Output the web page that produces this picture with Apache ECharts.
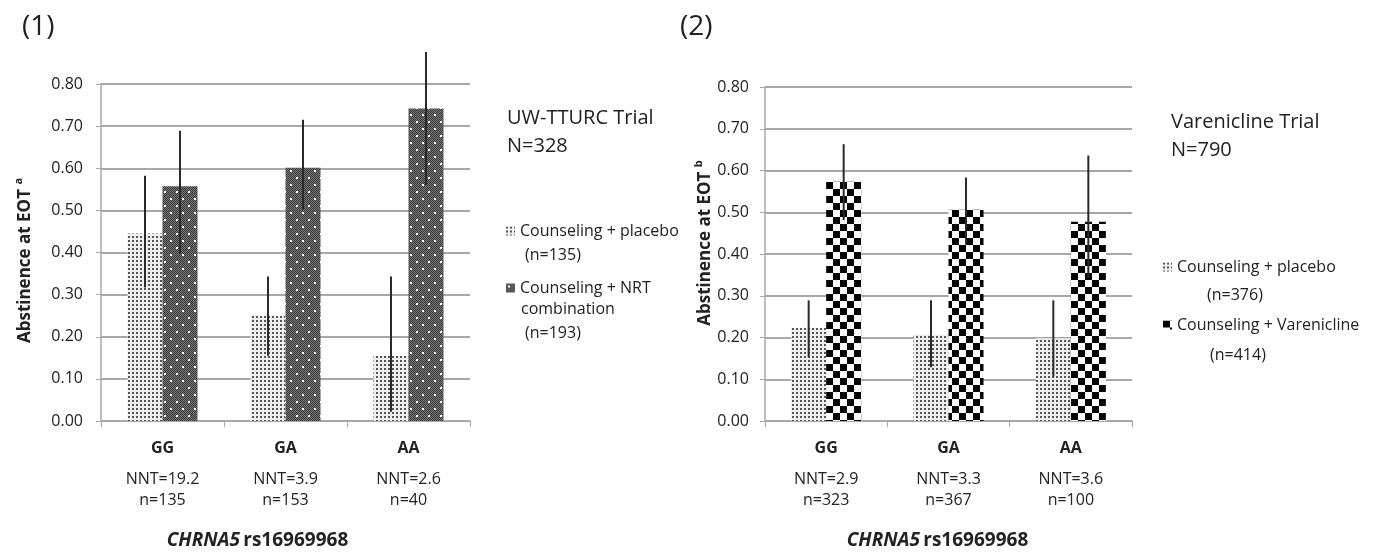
<!DOCTYPE html>
<html>
<head>
    <meta charset="utf-8"/>
    <title>CHRNA5 rs16969968 abstinence</title>
</head>
<body style="margin:0;background:#fff;">

<div id="main" style="width: 1373px;height:555px;"></div>

<script src="https://cdn.jsdelivr.net/npm/echarts@6/dist/echarts.min.js"></script>
<script>
    // genotype groups and the text under each one
    var categories = ['GG', 'GA', 'AA'];
    var nnt1 = ['NNT=19.2', 'NNT=3.9', 'NNT=2.6'];
    var sizes1 = ['n=135', 'n=153', 'n=40'];
    var nnt2 = ['NNT=2.9', 'NNT=3.3', 'NNT=3.6'];
    var sizes2 = ['n=323', 'n=367', 'n=100'];

    // (1) UW-TTURC trial
    var placebo1 = [0.445, 0.251, 0.155];
    var placebo1Low = [0.317, 0.155, 0.022];
    var placebo1High = [0.582, 0.343, 0.343];
    var nrt = [0.557, 0.601, 0.742];
    var nrtLow = [0.397, 0.502, 0.560];
    var nrtHigh = [0.689, 0.715, 0.876];

    // (2) Varenicline trial
    var placebo2 = [0.223, 0.207, 0.198];
    var placebo2Low = [0.153, 0.129, 0.106];
    var placebo2High = [0.289, 0.289, 0.289];
    var varen = [0.573, 0.506, 0.477];
    var varenLow = [0.481, 0.423, 0.344];
    var varenHigh = [0.663, 0.583, 0.636];

    var yMin = 0, yMax = 0.8, yStep = 0.1;

    var FONT = "'Open Sans', sans-serif";
    var INK = '#222';
    var GRID = '#a8a8a8';

    function pattern(w, h, draw) {
        var c = document.createElement('canvas');
        c.width = w;
        c.height = h;
        draw(c.getContext('2d'));
        return {image: c, repeat: 'repeat'};
    }

    // light dotted fill
    var patPlacebo = pattern(4, 4, function (ctx) {
        ctx.fillStyle = '#eeeeee';
        ctx.fillRect(0, 0, 4, 4);
        ctx.fillStyle = '#555555';
        ctx.fillRect(0, 0, 2, 2);
    });
    // dark fine texture with white dots
    var patNrt = pattern(12, 14, function (ctx) {
        for (var x = 0; x < 12; x++) {
            for (var y = 0; y < 14; y++) {
                ctx.fillStyle = (x + y) % 2 === 0 ? '#363636' : '#7a7a7a';
                ctx.fillRect(x, y, 1, 1);
            }
        }
        ctx.fillStyle = '#ffffff';
        ctx.fillRect(2, 2, 2, 2);
        ctx.fillRect(8, 9, 2, 2);
    });
    // black and white checkerboard
    var patVaren = pattern(14, 14, function (ctx) {
        ctx.fillStyle = '#ffffff';
        ctx.fillRect(0, 0, 14, 14);
        ctx.fillStyle = '#000000';
        ctx.fillRect(0, 0, 7, 7);
        ctx.fillRect(7, 7, 7, 7);
    });

    var BAR_W = 35;

    function errData(low, high) {
        return low.map(function (v, i) { return [i, v, high[i]]; });
    }

    function errSeries(name, idx, low, high, offset) {
        return {
            name: name,
            type: 'custom',
            xAxisIndex: idx,
            yAxisIndex: idx,
            z: 5,
            silent: true,
            data: errData(low, high),
            encode: {x: 0, y: [1, 2]},
            renderItem: function (params, api) {
                var a = api.coord([api.value(0), api.value(1)]);
                var b = api.coord([api.value(0), api.value(2)]);
                return {
                    type: 'line',
                    shape: {x1: a[0] + offset, y1: a[1], x2: b[0] + offset, y2: b[1]},
                    style: {stroke: '#2a2a2a', lineWidth: 2}
                };
            }
        };
    }

    function xAxisFor(idx, nnt, sizes, padRight) {
        return {
            type: 'category',
            gridIndex: idx,
            data: categories,
            axisLine: {lineStyle: {color: GRID, width: 1.5}},
            axisTick: {show: true, length: 6, lineStyle: {color: GRID}},
            axisLabel: {
                interval: 0,
                margin: 7,
                formatter: function (v, i) {
                    return '{b|' + v + '}\n{t|' + nnt[i] + '}\n{t|' + sizes[i] + '}';
                },
                rich: {
                    b: {fontFamily: FONT, fontSize: 16, fontWeight: 'bold', lineHeight: 41, color: INK},
                    t: {fontFamily: FONT, fontSize: 16, lineHeight: 21, color: INK}
                }
            },
            name: '{i|CHRNA5} {r|rs16969968}',
            nameLocation: 'middle',
            nameGap: 110,
            nameTextStyle: {
                padding: [0, padRight, 0, 0],
                rich: {
                    i: {fontFamily: FONT, fontSize: 19, fontWeight: 'bold', fontStyle: 'italic', color: INK},
                    r: {fontFamily: FONT, fontSize: 19, fontWeight: 'bold', color: INK}
                }
            }
        };
    }

    function yAxisFor(idx, sup, gap, margin, pad) {
        return {
            type: 'value',
            gridIndex: idx,
            min: yMin,
            max: yMax,
            interval: yStep,
            axisLine: {show: true, lineStyle: {color: GRID, width: 1.5}},
            axisTick: {show: true, length: 5, lineStyle: {color: GRID}},
            splitLine: {lineStyle: {color: GRID, width: 2}},
            axisLabel: {
                margin: margin,
                fontFamily: FONT,
                fontSize: 16,
                color: INK,
                formatter: function (v) { return v.toFixed(2); }
            },
            name: '{m|Abstinence at EOT }{s|' + sup + '}',
            nameLocation: 'middle',
            nameRotate: 90,
            nameGap: gap,
            nameTextStyle: {
                padding: pad,
                rich: {
                    m: {fontFamily: FONT, fontSize: 17, fontWeight: 'bold', color: INK, lineHeight: 24},
                    s: {fontFamily: FONT, fontSize: 11, fontWeight: 'bold', color: INK, verticalAlign: 'top', lineHeight: 24}
                }
            }
        };
    }

    var nrtName = 'Counseling + NRT combination';

    function label(x, y, text, size) {
        return {
            type: 'text',
            x: x,
            y: y,
            style: {text: text, fontFamily: FONT, fontSize: size || 16, fill: INK, align: 'left', verticalAlign: 'middle'}
        };
    }

    var myChart = echarts.init(document.getElementById('main'));

    var option = {
        animation: false,
        backgroundColor: '#fff',
        grid: [
            {left: 101, top: 84, width: 369, height: 342},
            {left: 765, top: 87, width: 367, height: 341}
        ],
        xAxis: [
            xAxisFor(0, nnt1, sizes1, 56),
            xAxisFor(1, nnt2, sizes2, 22)
        ],
        yAxis: [
            yAxisFor(0, 'a', 64, 18, [0, 16, 0, 0]),
            yAxisFor(1, 'b', 44, 16, [0, 0, 0, 22])
        ],
        legend: [
            {
                data: ['Counseling + placebo', nrtName],
                orient: 'vertical',
                left: 501,
                top: 217,
                icon: 'rect',
                itemWidth: 9,
                itemHeight: 9,
                itemGap: 39,
                selectedMode: false,
                formatter: function (name) { return name === nrtName ? 'Counseling + NRT' : name; },
                textStyle: {fontFamily: FONT, fontSize: 16, lineHeight: 18, color: INK}
            },
            {
                data: ['Counseling + placebo', 'Counseling + Varenicline'],
                orient: 'vertical',
                left: 1158,
                top: 253,
                icon: 'rect',
                itemWidth: 9,
                itemHeight: 9,
                itemGap: 40,
                selectedMode: false,
                textStyle: {fontFamily: FONT, fontSize: 16, lineHeight: 18, color: INK},
                formatter: function (name) { return name; }
            }
        ],
        graphic: [
            label(22, 27, '(1)', 28),
            label(680, 27, '(2)', 28),
            label(507, 118, 'UW-TTURC Trial', 20),
            label(507, 146, 'N=328', 20),
            label(525, 255, '(n=135)'),
            label(521, 309, 'combination'),
            label(525, 333, '(n=193)'),
            label(1171, 122, 'Varenicline Trial', 20),
            label(1171, 150, 'N=790', 20),
            label(1207, 295, '(n=376)'),
            label(1210, 355, '(n=414)')
        ],
        series: [
            {
                name: 'Counseling + placebo',
                type: 'bar',
                xAxisIndex: 0,
                yAxisIndex: 0,
                barWidth: BAR_W,
                barGap: '0%',
                itemStyle: {color: patPlacebo},
                data: placebo1
            },
            {
                name: nrtName,
                type: 'bar',
                xAxisIndex: 0,
                yAxisIndex: 0,
                barWidth: BAR_W,
                barGap: '0%',
                itemStyle: {color: patNrt},
                data: nrt
            },
            {
                name: 'Counseling + placebo',
                type: 'bar',
                xAxisIndex: 1,
                yAxisIndex: 1,
                barWidth: BAR_W,
                barGap: '0%',
                itemStyle: {color: patPlacebo},
                data: placebo2
            },
            {
                name: 'Counseling + Varenicline',
                type: 'bar',
                xAxisIndex: 1,
                yAxisIndex: 1,
                barWidth: BAR_W,
                barGap: '0%',
                itemStyle: {color: patVaren},
                data: varen
            },
            errSeries('err placebo 1', 0, placebo1Low, placebo1High, -BAR_W / 2),
            errSeries('err nrt', 0, nrtLow, nrtHigh, BAR_W / 2),
            errSeries('err placebo 2', 1, placebo2Low, placebo2High, -BAR_W / 2),
            errSeries('err varen', 1, varenLow, varenHigh, BAR_W / 2)
        ]
    };

    myChart.setOption(option);
</script>
</body>
</html>
